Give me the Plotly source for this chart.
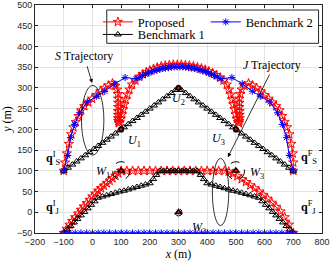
import plotly.graph_objects as go

# ---------------- data ----------------
# Proposed, S trajectory
prop_s_x = [-100, -95, -89, -82, -74, -66, -58, -48, -39, -28, -14, -1, 14, 28, 42, 56, 70,
            80, 86, 89, 90, 90, 90, 89, 89, 89, 90, 92, 95, 99, 103, 107, 111, 116, 122, 129, 138, 150, 163,
            175, 188, 200, 213, 226, 240, 254, 268, 282, 296, 310, 324, 338, 352, 366, 380, 393, 406, 419, 432, 445,
            457, 468, 476, 482, 487, 491, 495, 499, 503, 507, 510, 512, 513, 513, 513, 512, 512, 512, 515, 520, 530,
            544, 558, 572, 586, 600, 614, 627, 640, 652, 661, 670, 678, 686, 693, 698, 700, 700]
prop_s_y = [100, 120, 142, 165, 188, 205, 218, 232, 246, 256, 265, 274, 283, 292, 300, 306, 311,
            305, 296, 285, 274, 264, 254, 244, 235, 227, 220, 215, 218, 226, 236, 248, 260, 272, 284, 296, 308, 318, 327,
            333, 338, 342, 346, 349, 352, 354, 355, 356, 356, 356, 355, 354, 352, 350, 347, 344, 340, 336, 331, 325,
            318, 308, 296, 284, 272, 260, 248, 236, 226, 218, 215, 220, 227, 235, 244, 254, 264, 274, 285, 296, 305,
            311, 306, 300, 292, 283, 274, 265, 256, 246, 232, 218, 205, 188, 165, 142, 120, 100]
# Proposed, J trajectory
prop_j_x = [-100, -90, -80, -70, -60, -50, -40, -30, -20, -10, 0, 10, 20, 30, 40, 50, 60, 70, 80, 90, 100,
            120, 140, 160, 180, 200, 220, 240, 260, 280, 300, 320, 340, 360, 380, 400, 420, 440, 460,
            475, 490, 505, 520, 535, 550, 565, 580, 595, 610, 625, 640, 655, 670, 685, 700]
prop_j_y = [-50, -40, -30, -21, -12, -3, 6, 14, 22, 30, 38, 45, 52, 58, 64, 70, 76, 82, 88, 94, 100,
            100, 100, 100, 100, 100, 100, 100, 100, 100, 100, 100, 100, 100, 100, 100, 100, 100, 100,
            98, 93, 87, 80, 73, 65, 58, 50, 42, 33, 23, 13, 2, -12, -30, -50]

# Benchmark 1, S trajectory
b1_s_x = [-100, -85, -70, -55, -40, -25, -10, 5, 20, 35, 50, 65, 80, 95, 110, 125, 140, 155, 170, 185, 200,
          215, 230, 245, 260, 275, 290, 300, 310, 325, 340, 355, 370, 385, 400, 415, 430, 445, 460, 475, 490,
          505, 520, 535, 550, 565, 580, 595, 610, 625, 640, 655, 670, 685, 700]
b1_s_y = [100, 107.5, 115, 122.5, 130, 137.5, 145, 152.5, 160, 167.5, 175, 182.5, 190, 197.5, 205, 212.5, 220,
          227.5, 235, 242.5, 250, 257.5, 265, 272.5, 280, 287.5, 295, 300, 295, 287.5, 280, 272.5, 265, 257.5, 250,
          242.5, 235, 227.5, 220, 212.5, 205, 197.5, 190, 182.5, 175, 167.5, 160, 152.5, 145, 137.5, 130, 122.5,
          115, 107.5, 100]
# Benchmark 1, J trajectory
b1_j_x = [-100, -88, -76, -64, -52, -40, -28, -16, -4, 8, 20, 35, 50, 65, 80, 95, 110, 125, 140, 155, 170, 185,
          200, 212, 223, 235, 248, 261, 274, 287, 300, 313, 326, 339, 352, 365, 377, 388, 400,
          415, 430, 445, 460, 475, 490, 505, 520, 535, 550, 565, 580, 592, 604, 616, 628, 640, 652, 664, 676, 688, 700]
b1_j_y = [-50, -41.5, -33, -24.5, -16, -7.5, 1, 9.5, 18, 26.5, 35, 38, 41, 44, 47, 50, 52, 55, 58, 61, 64, 67,
          70, 80, 90, 100, 100, 100, 100, 100, 100, 100, 100, 100, 100, 100, 90, 80, 70,
          67, 64, 61, 58, 55, 52, 50, 47, 44, 41, 38, 35, 26.5, 18, 9.5, 1, -7.5, -16, -24.5, -33, -41.5, -50]

# Benchmark 2, S trajectory
b2_s_x = [-100, -86, -76, -62, -45, -18, 15, 43, 78, 114, 152,
          165, 175, 185, 195, 205, 215, 225, 235, 245, 255, 265, 275, 285, 295, 305, 315, 325, 335, 345, 355,
          365, 375, 385, 395, 405, 415, 425, 435, 448,
          486, 522, 557, 585, 618, 645, 662, 676, 686, 700]
b2_s_y = [100, 137, 180, 212, 240, 266, 280, 292, 310, 325, 322,
          326, 330, 333, 336, 339, 341, 343, 345, 347, 348, 349, 350, 351, 351, 351, 351, 350, 349, 348, 347,
          345, 343, 341, 339, 336, 333, 330, 326, 322,
          325, 310, 292, 280, 266, 240, 212, 180, 137, 100]
# Benchmark 2, J trajectory
b2_j_x = [-100, -80, -60, -40, -20, 0, 20, 40, 60, 80, 100, 120, 140, 160, 180, 200, 220, 240, 260, 280, 300,
          320, 340, 360, 380, 400, 420, 440, 460, 480, 500, 520, 540, 560, 580, 600, 620, 640, 660, 680, 700]
b2_j_y = [-50] * len(b2_j_x)

# users and jammers
user_x = [100, 300, 500]
user_y = [200, 300, 200]
jam_x = [100, 300, 500]
jam_y = [100, 0, 100]

# ---------------- figure ----------------
SERIF = "Liberation Serif, Times New Roman, serif"
SANS = "Liberation Sans, Arial, sans-serif"


def join(a, b):
    return list(a) + [None] + list(b)


fig = go.Figure()
fig.add_trace(go.Scatter(
    x=join(prop_s_x, prop_j_x), y=join(prop_s_y, prop_j_y), mode="lines+markers",
    name="Proposed", legend="legend", connectgaps=False,
    line=dict(color="#ff0000", width=1),
    marker=dict(symbol="star-open", size=7, color="#ff0000", line=dict(width=1, color="#ff0000"))))
fig.add_trace(go.Scatter(
    x=join(b1_s_x, b1_j_x), y=join(b1_s_y, b1_j_y), mode="lines+markers",
    name="Benchmark 1", legend="legend3", connectgaps=False,
    line=dict(color="black", width=1),
    marker=dict(symbol="triangle-up-open", size=6, color="black", line=dict(width=1, color="black"))))
fig.add_trace(go.Scatter(
    x=join(b2_s_x, b2_j_x), y=join(b2_s_y, b2_j_y), mode="lines+markers",
    name="Benchmark 2", legend="legend2", connectgaps=False,
    line=dict(color="#0000ff", width=1),
    marker=dict(symbol="asterisk-open", size=6, color="#0000ff", line=dict(width=1, color="#0000ff"))))

# users
fig.add_trace(go.Scatter(x=user_x, y=user_y, mode="markers", showlegend=False,
                         marker=dict(symbol="circle", size=6, color="black")))
fig.add_trace(go.Scatter(x=user_x, y=user_y, mode="markers", showlegend=False,
                         marker=dict(symbol="circle", size=2.5, color="#ff0000")))
# jammers
fig.add_trace(go.Scatter(x=jam_x, y=jam_y, mode="markers", showlegend=False,
                         marker=dict(symbol="triangle-up", size=8, color="black")))
fig.add_trace(go.Scatter(x=jam_x, y=jam_y, mode="markers", showlegend=False,
                         marker=dict(symbol="circle", size=2.5, color="#ff0000")))

shapes = [
    dict(type="circle", xref="x", yref="y", x0=-38, x1=40, y0=138, y1=306,
         line=dict(color="black", width=0.8)),
    dict(type="circle", xref="x", yref="y", x0=418, x1=475, y0=-32, y1=130,
         line=dict(color="black", width=0.8)),
    dict(type="circle", xref="x", yref="y", x0=70, x1=130, y0=78, y1=122,
         line=dict(color="black", width=1, dash="dash")),
    dict(type="circle", xref="x", yref="y", x0=470, x1=530, y0=78, y1=122,
         line=dict(color="black", width=1, dash="dash")),
    dict(type="circle", xref="x", yref="y", x0=288, x1=312, y0=-9, y1=9,
         line=dict(color="black", width=1, dash="dash")),
    # legend frame
    dict(type="rect", xref="paper", yref="paper", x0=0.25, x1=0.988, y0=0.832, y1=0.978,
         line=dict(color="#262626", width=1), fillcolor="white", layer="above"),
]

tf = dict(family=SERIF, size=12, color="black")
ann = [
    dict(x=-28, y=376, text="<i>S</i> Trajectory", showarrow=False, font=tf),
    dict(x=626, y=355, text="<i>J</i> Trajectory", showarrow=False, font=tf),
    dict(x=-1, y=312, ax=-20, ay=356, axref="x", ayref="y", text="", showarrow=True,
         arrowhead=2, arrowsize=1, arrowwidth=0.8, arrowcolor="black"),
    dict(x=472, y=133, ax=620, ay=336, axref="x", ayref="y", text="", showarrow=True,
         arrowhead=2, arrowsize=1, arrowwidth=0.8, arrowcolor="black"),
    dict(x=146, y=172, text="<i>U</i><sub>1</sub>", showarrow=False, font=tf),
    dict(x=301, y=274, text="<i>U</i><sub>2</sub>", showarrow=False, font=tf),
    dict(x=440, y=176, text="<i>U</i><sub>3</sub>", showarrow=False, font=tf),
    dict(x=36, y=98, text="<i>W</i><sub>1</sub>", showarrow=False, font=tf),
    dict(x=370, y=-37, text="<i>W</i><sub>2</sub>", showarrow=False, font=tf),
    dict(x=574, y=95, text="<i>W</i><sub>3</sub>", showarrow=False, font=tf),
    dict(x=-138, y=130, text="<b>q</b><sup>I</sup><sub>S</sub>", showarrow=False, font=tf),
    dict(x=-138, y=11, text="<b>q</b><sup>I</sup><sub>J</sub>", showarrow=False, font=tf),
    dict(x=754, y=131, text="<b>q</b><sup>F</sup><sub>S</sub>", showarrow=False, font=tf),
    dict(x=754, y=11, text="<b>q</b><sup>F</sup><sub>J</sub>", showarrow=False, font=tf),
]

axis_common = dict(showgrid=True, gridcolor="#e3e3e3", gridwidth=1, zeroline=False,
                   showline=True, linecolor="#262626", linewidth=1, mirror="ticks",
                   ticks="inside", ticklen=3, tickcolor="#262626", automargin=False,
                   tickfont=dict(family=SANS, size=9, color="#262626"))

leg_common = dict(orientation="v", xanchor="left", yanchor="top",
                  bgcolor="rgba(0,0,0,0)", borderwidth=0,
                  font=dict(family=SERIF, size=12.5, color="black"),
                  itemwidth=30, tracegroupgap=0)

fig.update_layout(
    width=332, height=263,
    margin=dict(l=35, r=10, t=5, b=30),
    paper_bgcolor="white", plot_bgcolor="white",
    xaxis=dict(range=[-200, 800], tickmode="array",
               tickvals=[-200, -100, 0, 100, 200, 300, 400, 500, 600, 700, 800],
               title=dict(text="<i>x</i> (m)", font=dict(family=SERIF, size=12, color="black"), standoff=3),
               **axis_common),
    yaxis=dict(range=[-50, 500], tickmode="array",
               tickvals=[-50, 0, 50, 100, 150, 200, 250, 300, 350, 400, 450, 500],
               title=dict(text="<i>y</i> (m)", font=dict(family=SERIF, size=12, color="black"), standoff=2),
               **axis_common),
    legend=dict(x=0.219, y=0.99, **leg_common),
    legend3=dict(x=0.219, y=0.935, **leg_common),
    legend2=dict(x=0.595, y=0.99, **leg_common),
    shapes=shapes, annotations=ann,
    showlegend=True,
)

fig.write_html("out.html", config={"displayModeBar": False},
               post_script="document.body.style.margin='0';document.body.style.overflow='hidden';")
